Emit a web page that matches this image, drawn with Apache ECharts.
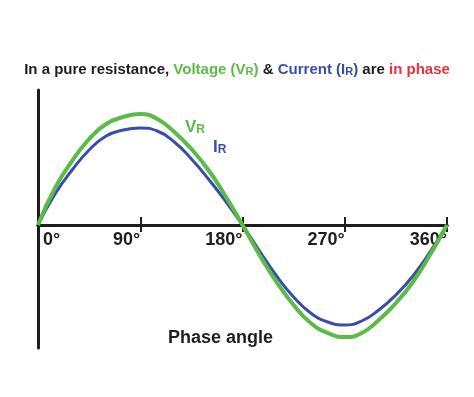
<!DOCTYPE html>
<html>
<head>
<meta charset="utf-8">
<script src="https://cdn.jsdelivr.net/npm/echarts@6/dist/echarts.min.js"></script>
<style>
  html, body { margin: 0; padding: 0; background: #fff; }
  #main { width: 474px; height: 397px; }
</style>
</head>
<body>
<div id="main"></div>
<script>
// phase angle (deg) and the two waves
const angles = [0, 15, 30, 45, 60, 75, 90, 105, 120, 135, 150, 165, 180,
  195, 210, 225, 240, 255, 270, 285, 300, 315, 330, 345, 360];
const voltage = [0, 37, 64, 86, 101, 108, 111, 106, 93, 76, 55, 29, 0,
  -30, -57, -80, -98, -108, -112, -108, -95, -78, -57, -30, 0];
const current = [0, 31, 55, 75, 89, 95, 97, 94, 83, 66, 46, 24, 0,
  -26, -51, -72, -88, -97, -100, -96, -85, -70, -51, -27, 0];
const tickLabels = { 0: '0°', 90: '90°', 180: '180°', 270: '270°', 360: '360°' };

const green = '#5cbb47';
const blue = '#3a4ea8';
const red = '#e8323c';
const ink = '#1e1e1e';
const font = 'Liberation Sans';

const chart = echarts.init(document.getElementById('main'));

const pairs = (vals) => angles.map((a, i) => [a, vals[i]]);
const labelFont = { fontFamily: font, fontWeight: 'bold', fontSize: 18, color: ink };
const hidden = { show: false };

// grid 0 holds the waves; grids 1 and 2 end on the zero line and carry the tick labels
const plotBox = { left: 38, right: 27, top: 90, bottom: 49 };
const upperBox = { left: 38, right: 27, top: 90, bottom: 172 };

chart.setOption({
  animation: false,
  backgroundColor: '#fff',
  title: [
    {
      text: '{d|In a pure resistance, }{g|Voltage (V}{gs|R}{g|) }{d|& }{b|Current (I}{bs|R}{b|) }{d|are }{r|in phase}',
      left: 'center',
      top: 62,
      padding: 0,
      textStyle: {
        rich: {
          d: { fontFamily: font, fontWeight: 'bold', fontSize: 15, color: ink },
          g: { fontFamily: font, fontWeight: 'bold', fontSize: 15, color: green },
          gs: { fontFamily: font, fontWeight: 'bold', fontSize: 11, color: green, padding: [4, 0, 0, 0] },
          b: { fontFamily: font, fontWeight: 'bold', fontSize: 15, color: blue },
          bs: { fontFamily: font, fontWeight: 'bold', fontSize: 11, color: blue, padding: [4, 0, 0, 0] },
          r: { fontFamily: font, fontWeight: 'bold', fontSize: 15, color: red }
        }
      }
    },
    {
      text: 'Phase angle',
      left: 168,
      top: 329,
      padding: 0,
      textStyle: labelFont
    },
    {
      text: '{v|V}{s|R}',
      left: 185,
      top: 119,
      padding: 0,
      textStyle: {
        rich: {
          v: { fontFamily: font, fontWeight: 'bold', fontSize: 17, color: green },
          s: { fontFamily: font, fontWeight: 'bold', fontSize: 12, color: green, padding: [4, 0, 0, 0] }
        }
      }
    },
    {
      text: '{v|I}{s|R}',
      left: 213,
      top: 139,
      padding: 0,
      textStyle: {
        rich: {
          v: { fontFamily: font, fontWeight: 'bold', fontSize: 17, color: blue },
          s: { fontFamily: font, fontWeight: 'bold', fontSize: 12, color: blue, padding: [4, 0, 0, 0] }
        }
      }
    }
  ],
  grid: [plotBox, upperBox, upperBox],
  xAxis: [
    {
      gridIndex: 0,
      type: 'value',
      min: 0, max: 360, interval: 90,
      axisLine: { show: true, onZero: true, lineStyle: { color: ink, width: 3 } },
      axisTick: { show: true, length: 7, lineStyle: { color: ink, width: 2 } },
      axisLabel: hidden,
      splitLine: hidden
    },
    {
      gridIndex: 1,
      type: 'value',
      min: 0, max: 360, interval: 90,
      axisLine: { show: true, onZero: false, lineStyle: { color: ink, width: 3 } },
      axisTick: { show: true, inside: true, length: 8, lineStyle: { color: ink, width: 2 } },
      axisLabel: Object.assign({
        margin: 6,
        align: 'right',
        formatter: (v) => (v === 0 ? '' : tickLabels[v])
      }, labelFont),
      splitLine: hidden
    },
    {
      gridIndex: 2,
      type: 'value',
      min: 0, max: 360, interval: 90,
      axisLine: { show: false, onZero: false },
      axisTick: hidden,
      axisLabel: Object.assign({
        margin: 6,
        align: 'left',
        formatter: (v) => (v === 0 ? ' ' + tickLabels[v] : '')
      }, labelFont),
      splitLine: hidden
    }
  ],
  yAxis: [
    {
      gridIndex: 0,
      type: 'value',
      min: -123, max: 135,
      axisLine: { show: true, onZero: false, lineStyle: { color: ink, width: 3 } },
      axisTick: hidden,
      axisLabel: hidden,
      splitLine: hidden
    },
    { gridIndex: 1, type: 'value', axisLine: hidden, axisTick: hidden, axisLabel: hidden, splitLine: hidden },
    { gridIndex: 2, type: 'value', axisLine: hidden, axisTick: hidden, axisLabel: hidden, splitLine: hidden }
  ],
  series: [
    {
      type: 'line',
      xAxisIndex: 0, yAxisIndex: 0,
      data: pairs(current),
      smooth: 0.5,
      showSymbol: false,
      lineStyle: { color: blue, width: 3 }
    },
    {
      type: 'line',
      xAxisIndex: 0, yAxisIndex: 0,
      data: pairs(voltage),
      smooth: 0.5,
      showSymbol: false,
      lineStyle: { color: green, width: 4 }
    }
  ]
});
</script>
</body>
</html>
